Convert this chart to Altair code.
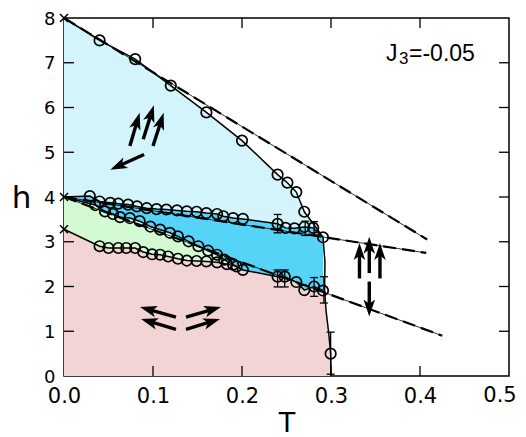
import math
import altair as alt
import pandas as pd

W, H = 445, 358
TMAX, HMAX = 0.5, 8.0

# ---------------- data ----------------
# upper phase boundary (circles)
up_T = [0.040, 0.080, 0.120, 0.160, 0.200, 0.240, 0.251, 0.261, 0.270]
up_h = [7.50, 7.08, 6.49, 5.89, 5.26, 4.50, 4.32, 4.11, 3.67]

# upper-middle boundary (top of bright blue)
um_T = [0.029, 0.040, 0.052, 0.061, 0.072, 0.082, 0.093, 0.104, 0.115, 0.127, 0.138,
        0.149, 0.160, 0.172, 0.179, 0.190, 0.201, 0.240, 0.249, 0.259, 0.270, 0.280, 0.291]
um_h = [4.02, 3.90, 3.87, 3.85, 3.83, 3.79, 3.75, 3.73, 3.72, 3.70, 3.68,
        3.67, 3.64, 3.62, 3.57, 3.53, 3.51, 3.40, 3.31, 3.30, 3.33, 3.31, 3.10]

# lower-middle boundary (bottom of bright blue)
lm_T = [0.035, 0.046, 0.055, 0.063, 0.074, 0.085, 0.097, 0.108, 0.119, 0.128, 0.140,
        0.151, 0.162, 0.172, 0.180, 0.190, 0.201, 0.240, 0.248, 0.261, 0.270, 0.281, 0.291]
lm_h = [3.82, 3.68, 3.62, 3.55, 3.53, 3.46, 3.34, 3.27, 3.20, 3.12, 3.01,
        2.90, 2.80, 2.71, 2.60, 2.49, 2.37, 2.22, 2.22, 2.10, 1.92, 2.00, 1.91]

# top of the low-field (pink) phase
pk_T = [0.040, 0.050, 0.061, 0.070, 0.080, 0.089, 0.099, 0.108, 0.117, 0.128, 0.138,
        0.149, 0.160, 0.172, 0.183, 0.194]
pk_h = [2.90, 2.86, 2.86, 2.86, 2.86, 2.77, 2.72, 2.71, 2.67, 2.62, 2.58,
        2.57, 2.56, 2.54, 2.50, 2.45]

# single low-field point
lo_T = [0.2996]
lo_h = [0.50]

# T = 0 end points (crosses)
x0_T = [0.0, 0.0, 0.0]
x0_h = [8.0, 4.0, 3.28]

# upper curve tail and right-hand boundary
uc_T = [0.281, 0.291]
uc_h = [3.38, 3.10]
rb_T = [0.2932, 0.2928, 0.2945, 0.2975, 0.2996, 0.300]
rb_h = [2.55, 1.91, 1.45, 0.95, 0.50, 0.0]

# dashed extrapolations (start T, start h, end T, end h)
ds_T0 = [0.0, 0.0, 0.0]
ds_h0 = [8.0, 4.0, 4.0]
ds_T1 = [0.408, 0.407, 0.425]
ds_h1 = [3.05, 2.75, 0.90]

# error bars
eb_T = [0.240, 0.271, 0.281, 0.240, 0.248, 0.281, 0.292, 0.2996]
eb_lo = [3.20, 3.14, 3.15, 1.99, 1.99, 1.78, 1.63, 0.04]
eb_hi = [3.61, 3.46, 3.45, 2.37, 2.37, 2.20, 2.22, 0.98]

# spin arrows: tail (T,h) -> tip (T,h)
ar_T0 = [0.074, 0.089, 0.100, 0.090,
         0.1258, 0.1258, 0.1371, 0.1371,
         0.332, 0.343, 0.355, 0.343]
ar_h0 = [5.14, 5.29, 5.14, 4.95,
         1.318, 1.040, 1.318, 1.040,
         2.18, 2.30, 2.18, 2.11]
ar_T1 = [0.085, 0.101, 0.112, 0.052,
         0.0854, 0.0865, 0.1764, 0.1753,
         0.332, 0.343, 0.355, 0.343]
ar_h1 = [5.88, 6.05, 5.88, 4.61,
         1.542, 1.274, 1.542, 1.274,
         2.97, 3.11, 2.97, 1.33]

x_labels = [0.0, 0.1, 0.2, 0.3, 0.4]
x_last = [0.5]
xt = [0.1, 0.2, 0.3, 0.4]
yt = [1, 2, 3, 4, 5, 6, 7]

C_LB, C_BB, C_GR, C_PK = "#d4f4fc", "#55d4f8", "#d4fad4", "#f2d4d4"

# ---------------- scales / axes ----------------
xs = alt.Scale(domain=[0, TMAX], nice=False, zero=False)
ys = alt.Scale(domain=[0, HMAX], nice=False, zero=False)
xax = alt.Axis(values=x_labels, format=".1f", ticks=False, domain=False,
               grid=False, labelFontSize=21, labelFont="DejaVu Sans", labelColor="black",
               labelPadding=9, labelFlush=False, labelOverlap=False,
               title="T", titleFont="DejaVu Sans", titleFontSize=27, titleFontWeight="normal",
               titleColor="black", titleBaseline="alphabetic", titleY=55)
yax = alt.Axis(values=list(range(9)), format="d", ticks=False, domain=False, grid=False,
               labelFontSize=18, labelFont="DejaVu Sans", labelColor="black", labelPadding=9,
               labelFlush=False, labelOverlap=False, labelOffset=1,
               title="h", titleAngle=0, titleFont="DejaVu Sans", titleFontSize=31,
               titleFontWeight="normal", titleColor="black", titleX=-43, titleY=189,
               titleAlign="center", titleBaseline="alphabetic")


def X(f="T"):
    return alt.X(f"{f}:Q", scale=xs, axis=xax, title="T")


def Y(f="h"):
    return alt.Y(f"{f}:Q", scale=ys, axis=yax, title="h", stack=None)


def area(T, h, color):
    df = pd.DataFrame({"T": T, "h": h})
    return alt.Chart(df).mark_area(color=color, opacity=1, strokeWidth=0, interpolate="linear").encode(
        x=X(), y=Y())


# ---------------- regions ----------------
lb = area([0.0] + up_T + uc_T, [8.0] + up_h + uc_h, C_LB)
bb = area([0.0] + um_T, [4.0] + um_h, C_BB)
gr = area([0.0] + lm_T[:17], [4.0] + lm_h[:17], C_GR)
pk = area([0.0] + pk_T + lm_T[16:] + rb_T[2:], [3.28] + pk_h + lm_h[16:] + rb_h[2:], C_PK)

# ---------------- solid boundary lines ----------------
rows = []
def add_line(name, T, h):
    for i, (t, v) in enumerate(zip(T, h)):
        rows.append({"T": t, "h": v, "g": name, "i": i})

add_line("up", [0.0] + up_T + uc_T + rb_T, [8.0] + up_h + uc_h + rb_h)
add_line("um", [0.0] + um_T, [4.0] + um_h)
add_line("lm", [0.0] + lm_T, [4.0] + lm_h)
add_line("pk", [0.0] + pk_T + [lm_T[16]], [3.28] + pk_h + [lm_h[16]])
lines_df = pd.DataFrame(rows)
solid = alt.Chart(lines_df).mark_line(color="black", strokeWidth=1.5).encode(
    x=X(), y=Y(), detail="g:N", order="i:Q")

# ---------------- dashed extrapolations ----------------
drows = []
for k in range(len(ds_T0)):
    drows.append({"T": ds_T0[k], "h": ds_h0[k], "g": k, "i": 0})
    drows.append({"T": ds_T1[k], "h": ds_h1[k], "g": k, "i": 1})
dash_df = pd.DataFrame(drows)
thin = alt.Chart(dash_df).mark_line(color="black", strokeWidth=0.8).encode(
    x=X(), y=Y(), detail="g:N", order="i:Q")
dashed = alt.Chart(dash_df).mark_line(color="black", strokeWidth=2.2, strokeDash=[13, 6]).encode(
    x=X(), y=Y(), detail="g:N", order="i:Q")

# ---------------- symbols ----------------
pts = pd.DataFrame({"T": up_T + um_T + lm_T + pk_T + lo_T,
                    "h": up_h + um_h + lm_h + pk_h + lo_h})
circles = alt.Chart(pts).mark_point(shape="circle", filled=False, size=110, color="black",
                                    strokeWidth=1.7, opacity=1).encode(x=X(), y=Y())

crosses = alt.Chart(pd.DataFrame({"T": x0_T, "h": x0_h})).mark_point(
    shape="M-1,-1L1,1M1,-1L-1,1", filled=False, size=64, color="black", strokeWidth=1.5,
    opacity=1).encode(x=X(), y=Y())

eb = pd.DataFrame({"T": eb_T, "h": eb_lo, "h2": eb_hi})
eb_rule = alt.Chart(eb).mark_rule(color="black", strokeWidth=1.3).encode(
    x=X(), y=Y(), y2="h2:Q")
eb_caps = pd.DataFrame({"T": eb_T + eb_T, "h": eb_lo + eb_hi})
caps = alt.Chart(eb_caps).mark_tick(orient="horizontal", color="black", size=8,
                                    thickness=1.3, opacity=1).encode(x=X(), y=Y())

# ---------------- arrows ----------------
L = 17.0
shafts, heads = [], []
for k in range(len(ar_T0)):
    px0, py0 = ar_T0[k] / TMAX * W, (1 - ar_h0[k] / HMAX) * H
    px1, py1 = ar_T1[k] / TMAX * W, (1 - ar_h1[k] / HMAX) * H
    dx, dy = px1 - px0, py1 - py0
    n = math.hypot(dx, dy)
    ux, uy = dx / n, dy / n
    cx, cy = px1 - ux * L / 2, py1 - uy * L / 2
    cT, ch = cx / W * TMAX, (1 - cy / H) * HMAX
    ang = math.degrees(math.atan2(dx, -dy)) % 360
    shafts.append({"T": ar_T0[k], "h": ar_h0[k], "T2": cT, "h2": ch})
    heads.append({"T": cT, "h": ch, "a": ang})
shaft = alt.Chart(pd.DataFrame(shafts)).mark_rule(color="black", strokeWidth=3.4).encode(
    x=X(), y=Y(), x2="T2:Q", y2="h2:Q")
head = alt.Chart(pd.DataFrame(heads)).mark_point(
    shape="M0,-1L0.68,1L0,0.5L-0.68,1Z", filled=True, size=L * L, color="black",
    opacity=1).encode(x=X(), y=Y(), angle=alt.Angle("a:Q", scale=None))

# ---------------- inward ticks ----------------
tk = 10
tx = pd.DataFrame({"T": xt})
ty = pd.DataFrame({"h": yt})
tick_b = alt.Chart(tx).mark_rule(color="black", strokeWidth=1.3).encode(
    x=X(), y=alt.value(H), y2=alt.value(H - tk))
tick_t = alt.Chart(tx).mark_rule(color="black", strokeWidth=1.3).encode(
    x=X(), y=alt.value(0), y2=alt.value(tk))
tick_l = alt.Chart(ty).mark_rule(color="black", strokeWidth=1.3).encode(
    y=Y(), x=alt.value(0), x2=alt.value(tk))
tick_r = alt.Chart(ty).mark_rule(color="black", strokeWidth=1.3).encode(
    y=Y(), x=alt.value(W), x2=alt.value(W - tk))

# last x label, nudged so that it stays inside the page
last_lab = alt.Chart(pd.DataFrame({"T": x_last, "lab": ["0.5"]})).mark_text(
    font="DejaVu Sans", fontSize=21, align="center", baseline="top", color="black", dx=-9
).encode(x=X(), y=alt.value(H + 9), text="lab:N")

# ---------------- label J3 ----------------
one = pd.DataFrame({"a": [0]})
tJ = alt.Chart(one).mark_text(font="Liberation Sans", fontSize=23, align="left",
                              baseline="alphabetic", color="black").encode(
    x=alt.value(322), y=alt.value(43), text=alt.value("J"))
t3 = alt.Chart(one).mark_text(font="Liberation Sans", fontSize=17, align="left",
                              baseline="alphabetic", color="black").encode(
    x=alt.value(335), y=alt.value(45.5), text=alt.value("3"))
tR = alt.Chart(one).mark_text(font="Liberation Sans", fontSize=23, align="left",
                              baseline="alphabetic", color="black").encode(
    x=alt.value(345), y=alt.value(43), text=alt.value("=-0.05"))

chart = alt.layer(
    lb, bb, gr, pk, thin, dashed, solid, eb_rule, caps, circles, crosses,
    shaft, head, tick_b, tick_t, tick_l, tick_r, last_lab, tJ, t3, tR
).properties(
    width=W, height=H,
    padding={"left": 56, "top": 10, "right": 9, "bottom": 62},
    autosize=alt.AutoSizeParams(type="none"),
).configure_view(stroke="black", strokeWidth=1.5)

chart.save("out.html", embed_options={"renderer": "svg", "actions": False})
